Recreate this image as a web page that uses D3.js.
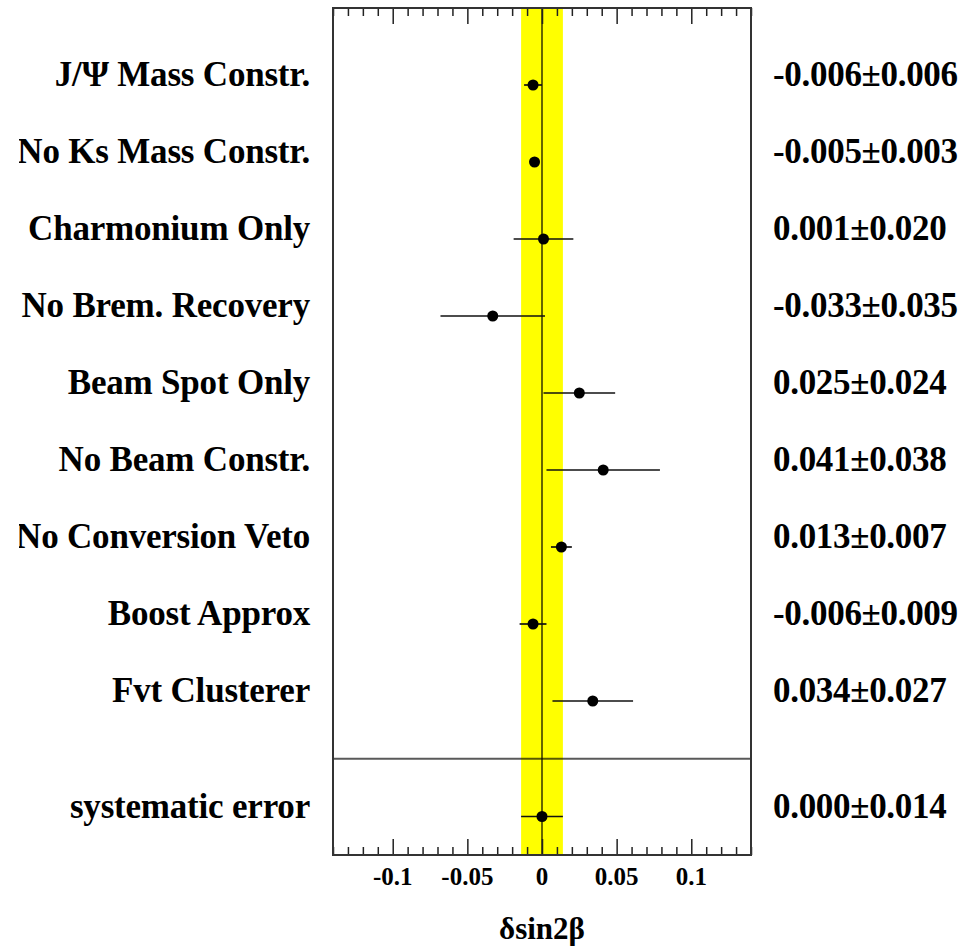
<!DOCTYPE html>
<html>
<head>
<meta charset="utf-8">
<script src="https://cdn.jsdelivr.net/npm/d3@7"></script>
<style>
  html, body { margin: 0; padding: 0; background: #fff; }
  svg { display: block; }
  text { font-family: "Liberation Serif", "Times New Roman", serif; }
</style>
</head>
<body>
<svg id="chart" width="978" height="947"></svg>
<script>
// Systematic variations of sin2beta: shift and its error for each check
const labels = [
  "J/\u03A8 Mass Constr.",
  "No Ks Mass Constr.",
  "Charmonium Only",
  "No Brem. Recovery",
  "Beam Spot Only",
  "No Beam Constr.",
  "No Conversion Veto",
  "Boost Approx",
  "Fvt Clusterer"
];
const shifts = [-0.006, -0.005, 0.001, -0.033, 0.025, 0.041, 0.013, -0.006, 0.034];
const errors = [0.006, 0.003, 0.020, 0.035, 0.024, 0.038, 0.007, 0.009, 0.027];

// Total systematic error (shown as the band and the last row)
const totalLabel = "systematic error";
const totalShift = 0.000;
const totalError = 0.014;

const xTickValues = [-0.1, -0.05, 0, 0.05, 0.1];
const xTickLabels = ["-0.1", "-0.05", "0", "0.05", "0.1"];
const xTitle = "\u03B4sin2\u03B2";

const svg = d3.select("#chart");
const frame = { left: 333, right: 751, top: 8, bottom: 855 };

const x = d3.scaleLinear().domain([-0.14, 0.14]).range([frame.left, frame.right]);
// vertical coordinate: rows counted upward from the bottom of the frame
const y = d3.scaleLinear().domain([0, 11]).range([frame.bottom, frame.top]);

const rowY = i => y(10 - i);
const totalY = y(0.5);
const dividerY = y(1.25);

const clip = svg.append("defs").append("clipPath").attr("id", "pageclip");
clip.append("rect").attr("x", 19).attr("y", 0).attr("width", 959).attr("height", 947);

// yellow band: total systematic error
svg.append("rect")
  .attr("x", x(totalShift - totalError))
  .attr("y", frame.top)
  .attr("width", x(totalShift + totalError) - x(totalShift - totalError))
  .attr("height", frame.bottom - frame.top)
  .attr("fill", "#ffff00");

// zero line
svg.append("line")
  .attr("x1", x(0)).attr("x2", x(0))
  .attr("y1", frame.top).attr("y2", frame.bottom)
  .attr("stroke", "#000").attr("stroke-opacity", 0.6).attr("stroke-width", 2);

// divider above the total row
svg.append("line")
  .attr("x1", frame.left).attr("x2", frame.right)
  .attr("y1", dividerY).attr("y2", dividerY)
  .attr("stroke", "#000").attr("stroke-opacity", 0.65).attr("stroke-width", 2);

// top and bottom axes with inward ticks
const minorTicks = d3.range(-14, 15).map(d => d / 100);
const majorSet = new Set(xTickValues.map(v => Math.round(v * 100)));
const minorOnly = minorTicks.filter(v => !majorSet.has(Math.round(v * 100)));

function drawAxis(g, inwardDir) {
  const axMajor = (inwardDir > 0 ? d3.axisBottom(x) : d3.axisTop(x))
    .tickValues(xTickValues).tickSize(16).tickFormat("");
  const axMinor = (inwardDir > 0 ? d3.axisBottom(x) : d3.axisTop(x))
    .tickValues(minorOnly).tickSize(8).tickFormat("");
  g.append("g").call(axMajor);
  g.append("g").call(axMinor);
  g.selectAll(".domain").remove();
  g.selectAll("line").attr("stroke", "#222").attr("stroke-width", 1.5);
}
drawAxis(svg.append("g").attr("transform", `translate(0,${frame.top})`), 1);
drawAxis(svg.append("g").attr("transform", `translate(0,${frame.bottom})`), -1);

// frame
svg.append("rect")
  .attr("x", frame.left).attr("y", frame.top)
  .attr("width", frame.right - frame.left).attr("height", frame.bottom - frame.top)
  .attr("fill", "none").attr("stroke", "#333").attr("stroke-width", 2);

// tick labels
svg.append("g").selectAll("text")
  .data(xTickValues)
  .join("text")
  .attr("x", d => x(d))
  .attr("y", 885)
  .attr("text-anchor", "middle")
  .attr("font-size", 25)
  .attr("font-weight", "bold")
  .attr("fill", "#000")
  .text((d, i) => xTickLabels[i]);

svg.append("text")
  .attr("x", x(0)).attr("y", 939)
  .attr("text-anchor", "middle")
  .attr("font-size", 31)
  .attr("font-weight", "bold")
  .attr("fill", "#000")
  .text(xTitle);

// rows of measurements
const rows = labels.map((l, i) => ({ label: l, v: shifts[i], e: errors[i], yy: rowY(i) }));
rows.push({ label: totalLabel, v: totalShift, e: totalError, yy: totalY });

const fmt = v => {
  const s = Math.abs(v).toFixed(3);
  return (v < 0 ? "-" : "") + s;
};

const rowG = svg.append("g").selectAll("g").data(rows).join("g");

rowG.append("line")
  .attr("x1", d => x(d.v - d.e)).attr("x2", d => x(d.v + d.e))
  .attr("y1", d => d.yy).attr("y2", d => d.yy)
  .attr("stroke", "#111").attr("stroke-width", 1.7);

rowG.append("circle")
  .attr("cx", d => x(d.v)).attr("cy", d => d.yy)
  .attr("r", 5.5).attr("fill", "#000");

rowG.append("text")
  .attr("clip-path", "url(#pageclip)")
  .attr("x", 310).attr("y", d => d.yy + 1)
  .attr("text-anchor", "end")
  .attr("font-size", 35)
  .attr("font-weight", "bold")
  .attr("letter-spacing", -0.2)
  .attr("fill", "#000")
  .text(d => d.label);

rowG.append("text")
  .attr("x", 773).attr("y", d => d.yy + 1)
  .attr("font-size", 35)
  .attr("font-weight", "bold")
  .attr("letter-spacing", -0.3)
  .attr("fill", "#000")
  .text(d => fmt(d.v) + "\u00B1" + fmt(d.e));
</script>
</body>
</html>
